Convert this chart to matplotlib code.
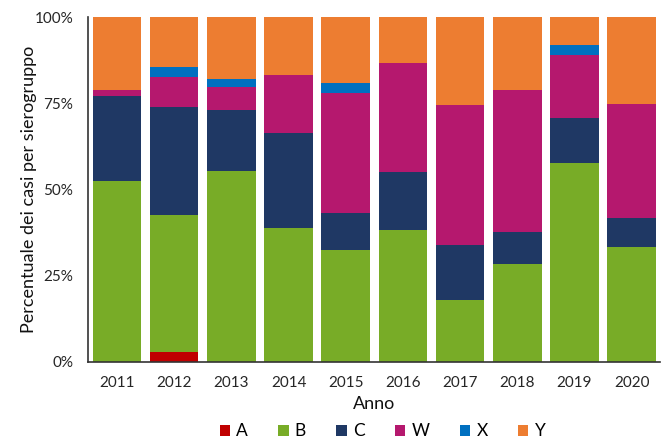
import matplotlib.pyplot as plt
import numpy as np
from matplotlib.patches import Patch
from matplotlib.ticker import FixedLocator

years = ["2011", "2012", "2013", "2014", "2015", "2016", "2017", "2018", "2019", "2020"]
groups = ["A", "B", "C", "W", "X", "Y"]
colors = ["#C00000", "#78AC27", "#1F3864", "#B5186E", "#0070C0", "#ED7D31"]

# percentuali per sierogruppo
pct_A = [0.0, 2.7, 0.0, 0.0, 0.0, 0.0, 0.0, 0.0, 0.0, 0.0]
pct_B = [52.6, 40.0, 55.5, 38.8, 32.5, 38.2, 18.0, 28.3, 57.7, 33.3]
pct_C = [24.6, 31.3, 17.7, 27.6, 10.6, 17.0, 16.0, 9.3, 13.1, 8.3]
pct_W = [1.8, 8.8, 6.7, 16.8, 34.9, 31.7, 40.7, 41.3, 18.3, 33.3]
pct_X = [0.0, 2.8, 2.2, 0.0, 3.0, 0.0, 0.0, 0.0, 2.8, 0.0]
pct_Y = [21.0, 14.4, 17.9, 16.8, 19.0, 13.1, 25.3, 21.1, 8.1, 25.1]

series = [pct_A, pct_B, pct_C, pct_W, pct_X, pct_Y]

plt.rcParams["font.family"] = ["Lato", "DejaVu Sans"]

fig = plt.figure(figsize=(6.67, 4.41), dpi=100)
ax = fig.add_axes([0.1325, 0.180, 0.8575, 0.7805])

x = np.arange(len(years))
bottom = np.zeros(len(years))
for name, vals, col in zip(groups, series, colors):
    vals = np.array(vals)
    ax.bar(x, vals, bottom=bottom, width=0.85, color=col, label=name)
    bottom += vals

ax.set_xlim(-0.5, len(years) - 0.5)
ax.set_ylim(0, 100)
ax.yaxis.set_major_locator(FixedLocator([0, 25, 50, 75, 100]))
ax.set_yticklabels(["0%", "25%", "50%", "75%", "100%"])
ax.set_xticks(x)
ax.set_xticklabels(years)
ax.tick_params(axis="both", length=0, labelsize=11, colors="#262626")
ax.tick_params(axis="x", pad=10)
ax.tick_params(axis="y", pad=11)

for s in ["top", "right"]:
    ax.spines[s].set_visible(False)
for s in ["bottom", "left"]:
    ax.spines[s].set_color("#333333")
    ax.spines[s].set_linewidth(1.2)

ax.set_xlabel("Anno", fontsize=13, labelpad=5, color="#111111")
ax.set_ylabel("Percentuale dei casi per sierogruppo", fontsize=13, labelpad=-2,
              color="#111111")

handles = [Patch(facecolor=c, label=g) for g, c in zip(groups, colors)]
fig.legend(handles=handles, loc="center", bbox_to_anchor=(0.5735, 0.022), ncol=6,
           frameon=False, fontsize=12.5, handlelength=0.6, handleheight=0.6,
           handletextpad=0.35, columnspacing=1.75)

fig.savefig("out.png", dpi=100)
